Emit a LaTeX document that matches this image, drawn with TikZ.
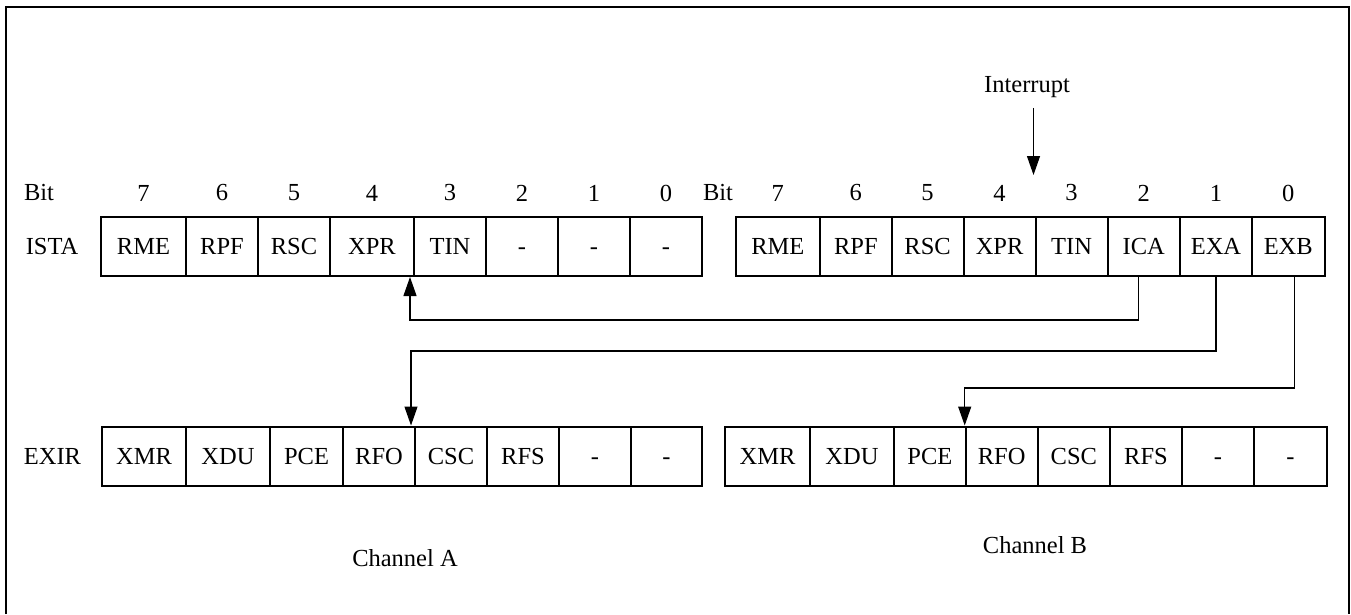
\documentclass[tikz,border=0pt]{standalone}
\usepackage{fontspec}
\setmainfont{Liberation Serif}
\usetikzlibrary{arrows.meta}

\begin{document}
\begin{tikzpicture}[x=1pt,y=-1pt,
    every node/.style={font=\fontsize{24.5}{29}\selectfont, inner sep=0pt},
    cell/.style={draw, line width=2pt, minimum height=59pt, text height=16.5pt, text depth=0pt},
    sig/.style={line width=1.2pt, -{Triangle[length=19pt,width=13pt]}}]
  \useasboundingbox (0,0) rectangle (1351,614);
  % frame, open at the bottom
  \draw[line width=2pt] (6,614) -- (6,7) -- (1349,7) -- (1349,614);

  % ISTA, channel A
  \node at (39,193){Bit};
  \node at (52,246.5){ISTA};
  \foreach \l/\r/\t/\b in {101/186/RME/7, 186/258/RPF/6, 258/330/RSC/5, 330/414/XPR/4,
                           414/486/TIN/3, 486/558/-/2, 558/630/-/1, 630/702/-/0}{
    \node[cell, minimum width={(\r-\l)*1pt}] (ia\b) at ({(\l+\r)/2},246.5) {\t};
    \node at ({(\l+\r)/2},193) {\b};
  }

  % ISTA, channel B
  \node at (718,193){Bit};
  \foreach \l/\r/\t/\b in {735.7/820/RME/7, 820/891.7/RPF/6, 891.7/963.5/RSC/5, 963.5/1035.7/XPR/4,
                           1035.7/1107.5/TIN/3, 1107.5/1180/ICA/2, 1180/1252/EXA/1, 1252/1324.5/EXB/0}{
    \node[cell, minimum width={(\r-\l)*1pt}] (ib\b) at ({(\l+\r)/2},246.5) {\t};
    \node at ({(\l+\r)/2},193) {\b};
  }

  % EXIR, both channels
  \node at (52.5,456){EXIR};
  \foreach \l/\r/\t/\b in {102/186/XMR/7, 186/270/XDU/6, 270/343/PCE/5, 343/415/RFO/4,
                           415/487/CSC/3, 487/559/RFS/2, 559/631/-/1, 631/702/-/0}
    \node[cell, minimum width={(\r-\l)*1pt}] (ea\b) at ({(\l+\r)/2},456) {\t};
  \foreach \l/\r/\t/\b in {725/810/XMR/7, 810/894/XDU/6, 894/965.7/PCE/5, 965.7/1037.7/RFO/4,
                           1037.7/1110/CSC/3, 1110/1182/RFS/2, 1182/1254/-/1, 1254/1327/-/0}
    \node[cell, minimum width={(\r-\l)*1pt}] (eb\b) at ({(\l+\r)/2},456) {\t};

  \node (chA) at (405,558){Channel A};
  \node (chB) at (1035,545){Channel B};

  % interrupt line
  \node (irq) at (1027,87){Interrupt};
  \coordinate (irqtip) at (1033.5,175);
  \draw[sig] (irq.south -| irqtip) ++(0,10) -- (irqtip);

  % ICA, EXA, EXB
  \draw[sig] ([xshift=-5pt]ib2.south) -- ++(0,43) -| ([xshift=-5pt]ia4.south east);
  \draw[sig] (ib1.south) -- ++(0,74) -| ([xshift=-5pt]ea4.north east);
  \draw[sig] ([xshift=6pt]ib0.south) -- ++(0,111) -| (eb4.north west);
\end{tikzpicture}
\end{document}
